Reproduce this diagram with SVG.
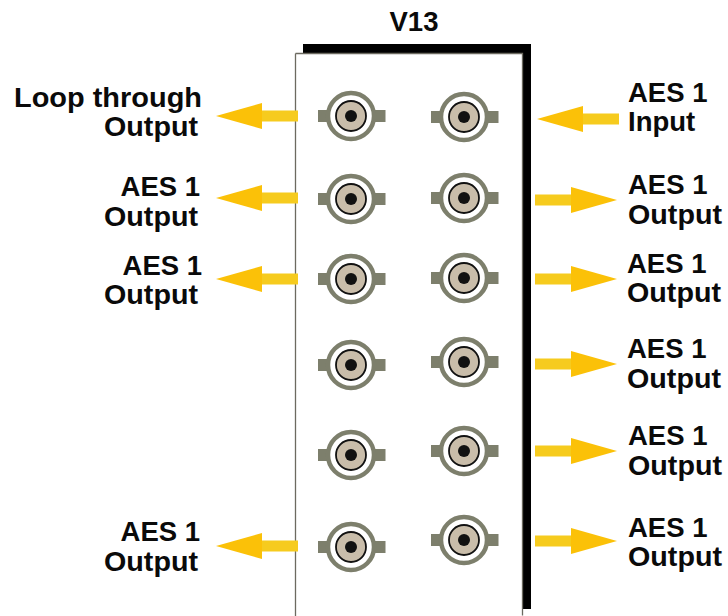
<svg xmlns="http://www.w3.org/2000/svg" xmlns:xlink="http://www.w3.org/1999/xlink" width="728" height="616" viewBox="0 0 728 616">
<style>
text{font-family:"Liberation Sans",Arial,sans-serif;font-weight:700;font-size:27.500px;fill:#0a0a0a}
.e{text-anchor:end}
.lug{fill:#7d7f6c}
.ring{fill:#fff;stroke:#7d7f6c;stroke-width:4.500}
.inner{fill:#c9bdaa;stroke:#111;stroke-width:1.800}
.pin{fill:#111}
.head{fill:#fbc108}
.shaft{fill:#f6cb1e}
</style>
<defs>
<g id="bnc">
<rect class="lug" x="-33" y="-6" width="67.500" height="12"/>
<circle class="ring" r="23"/>
<circle class="inner" r="15"/>
<circle class="pin" r="6"/>
</g>
<g id="ar">
<rect class="shaft" x="44" y="-5.500" width="38" height="11"/>
<path class="head" d="M0 0L46-13V13Z"/>
</g>
</defs>
<rect width="728" height="616" fill="#fff"/>
<g id="panel">
<path d="M303 44H531V609H522V53H303Z" fill="#000"/>
<path d="M295.500 53.500H522.500V615.500M295.500 53.500V616" fill="none" stroke="#6c6a60" stroke-width="1.300"/>
<text x="414" y="31" text-anchor="middle">V13</text>
</g>
<g id="connectors">
<use xlink:href="#ar" href="#ar" transform="translate(216 116)"/>
<use xlink:href="#ar" href="#ar" transform="translate(216 198)"/>
<use xlink:href="#ar" href="#ar" transform="translate(216 279)"/>
<use xlink:href="#ar" href="#ar" transform="translate(216 546)"/>
<use xlink:href="#ar" href="#ar" transform="translate(537 119)"/>
<use xlink:href="#ar" href="#ar" transform="translate(617 200) rotate(180)"/>
<use xlink:href="#ar" href="#ar" transform="translate(617 279) rotate(180)"/>
<use xlink:href="#ar" href="#ar" transform="translate(617 364) rotate(180)"/>
<use xlink:href="#ar" href="#ar" transform="translate(617 451) rotate(180)"/>
<use xlink:href="#ar" href="#ar" transform="translate(617 541) rotate(180)"/>
</g>
<g id="bnc-l1"><use xlink:href="#bnc" href="#bnc" transform="translate(351 116)"/></g>
<g id="bnc-l2"><use xlink:href="#bnc" href="#bnc" transform="translate(351 199)"/></g>
<g id="bnc-l3"><use xlink:href="#bnc" href="#bnc" transform="translate(351 279)"/></g>
<g id="bnc-l4"><use xlink:href="#bnc" href="#bnc" transform="translate(351 365)"/></g>
<g id="bnc-l5"><use xlink:href="#bnc" href="#bnc" transform="translate(351 455)"/></g>
<g id="bnc-l6"><use xlink:href="#bnc" href="#bnc" transform="translate(351 547)"/></g>
<g id="bnc-r1"><use xlink:href="#bnc" href="#bnc" transform="translate(464 117)"/></g>
<g id="bnc-r2"><use xlink:href="#bnc" href="#bnc" transform="translate(464 198)"/></g>
<g id="bnc-r3"><use xlink:href="#bnc" href="#bnc" transform="translate(464 278)"/></g>
<g id="bnc-r4"><use xlink:href="#bnc" href="#bnc" transform="translate(464 362)"/></g>
<g id="bnc-r5"><use xlink:href="#bnc" href="#bnc" transform="translate(464 451)"/></g>
<g id="bnc-r6"><use xlink:href="#bnc" href="#bnc" transform="translate(464 540)"/></g>
<g id="label-l1"><text class="e" x="202" y="107" textLength="188" lengthAdjust="spacingAndGlyphs">Loop through</text><text class="e" x="198" y="136" textLength="94" lengthAdjust="spacingAndGlyphs">Output</text></g>
<g id="label-l2"><text class="e" x="200" y="196">AES 1</text><text class="e" x="198" y="226" textLength="94" lengthAdjust="spacingAndGlyphs">Output</text></g>
<g id="label-l3"><text class="e" x="202" y="275">AES 1</text><text class="e" x="198" y="304" textLength="94" lengthAdjust="spacingAndGlyphs">Output</text></g>
<g id="label-l6"><text class="e" x="200" y="541">AES 1</text><text class="e" x="198" y="571" textLength="94" lengthAdjust="spacingAndGlyphs">Output</text></g>
<g id="label-r1"><text x="628" y="102">AES 1</text><text x="628" y="131">Input</text></g>
<g id="label-r2"><text x="628" y="194">AES 1</text><text x="628" y="224" textLength="94" lengthAdjust="spacingAndGlyphs">Output</text></g>
<g id="label-r3"><text x="627" y="273">AES 1</text><text x="627" y="302" textLength="94" lengthAdjust="spacingAndGlyphs">Output</text></g>
<g id="label-r4"><text x="627" y="358">AES 1</text><text x="627" y="388" textLength="94" lengthAdjust="spacingAndGlyphs">Output</text></g>
<g id="label-r5"><text x="628" y="445">AES 1</text><text x="628" y="475" textLength="94" lengthAdjust="spacingAndGlyphs">Output</text></g>
<g id="label-r6"><text x="628" y="537">AES 1</text><text x="628" y="566" textLength="94" lengthAdjust="spacingAndGlyphs">Output</text></g>
</svg>
